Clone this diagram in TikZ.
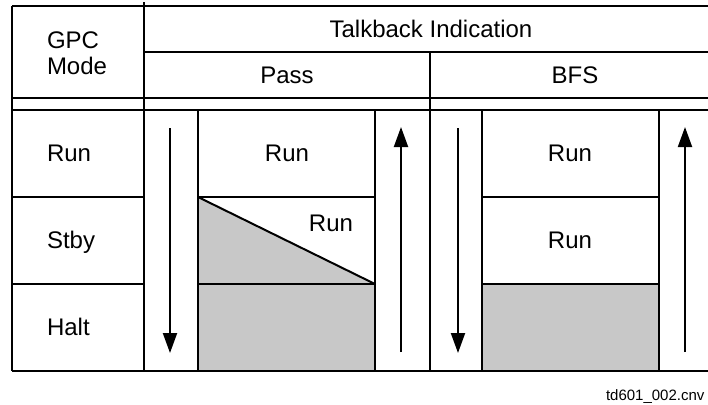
\documentclass[tikz,border=0pt]{standalone}
\usepackage{fontspec}
\setmainfont{Liberation Sans}
\usetikzlibrary{arrows.meta}
\definecolor{haltgray}{RGB}{200,200,200}

\begin{document}
\begin{tikzpicture}[x=0.5pt,y=-0.5pt,line width=1pt,
			cell text/.style={font=\fontsize{12}{13}\selectfont,text height=8.6pt,text depth=0pt,inner sep=0pt},
			row label/.style={cell text,anchor=west,align=left},
			flow arrow/.style={-{Triangle[width=7pt,length=10pt]}},
			halt area/.style={fill=haltgray,draw=none}]
			\useasboundingbox (0,0) rectangle (708,404);
			
			% shaded states
			\fill[halt area] (198,197) -- (375,284) -- (375,371) -- (198,371) -- cycle;
			\fill[halt area] (482,284) rectangle (659,371);
			
			% table grid
			\draw (12,6) -- (708,6) (144,52) -- (708,52);
			\draw (12,98) -- (708,98) (12,110) -- (708,110) (12,371) -- (708,371);
			\draw (12,6) -- (12,371) (144,2) -- (144,372) (430,52) -- (430,371);
			\foreach \x in {198,375,482,659}
				\draw (\x,110) -- (\x,371);
			\draw (12,197) -- (144,197) (12,284) -- (144,284);
			\draw (198,197) -- (375,197) (198,284) -- (375,284);
			\draw (482,197) -- (659,197) (482,284) -- (659,284);
			\draw (198,197) -- (375,284);
			
			% headings
			\node[cell text,align=left,text height=,anchor=west] (Mode) at (46,53) {GPC\\Mode};
			\node[cell text] (Talk) at (431,29) {Talkback Indication};
			\node[cell text] (Pass) at (287,75) {Pass};
			\node[cell text] (BFS) at (575,75) {BFS};
			
			% modes
			\node[row label] (Run) at (46,153) {Run};
			\node[row label] (Stby) at (46,240) {Stby};
			\node[row label] (Halt) at (46,327) {Halt};
			
			% indications
			\node[cell text] (PassRun) at (287,153) {Run};
			\node[cell text] (PassStby) at (331,223) {Run};
			\node[cell text] (BFSRun) at (570,153) {Run};
			\node[cell text] (BFSStby) at (570,240) {Run};
			
			% transitions
			\coordinate (PassDownA) at (170,128);
			\coordinate (PassDownB) at (170,353);
			\coordinate (PassUpA) at (401,352);
			\coordinate (PassUpB) at (401,127);
			\coordinate (BFSDownA) at (458,128);
			\coordinate (BFSDownB) at (458,353);
			\coordinate (BFSUpA) at (685,352);
			\coordinate (BFSUpB) at (685,127);
			\path[flow arrow]
			(PassDownA) edge (PassDownB)
			(PassUpA) edge (PassUpB)
			(BFSDownA) edge (BFSDownB)
			(BFSUpA) edge (BFSUpB);
			
			\node[font=\fontsize{7.5}{9}\selectfont,anchor=west,inner sep=0pt] (File) at (605,397) {td601\_002.cnv};
\end{tikzpicture}
\end{document}
